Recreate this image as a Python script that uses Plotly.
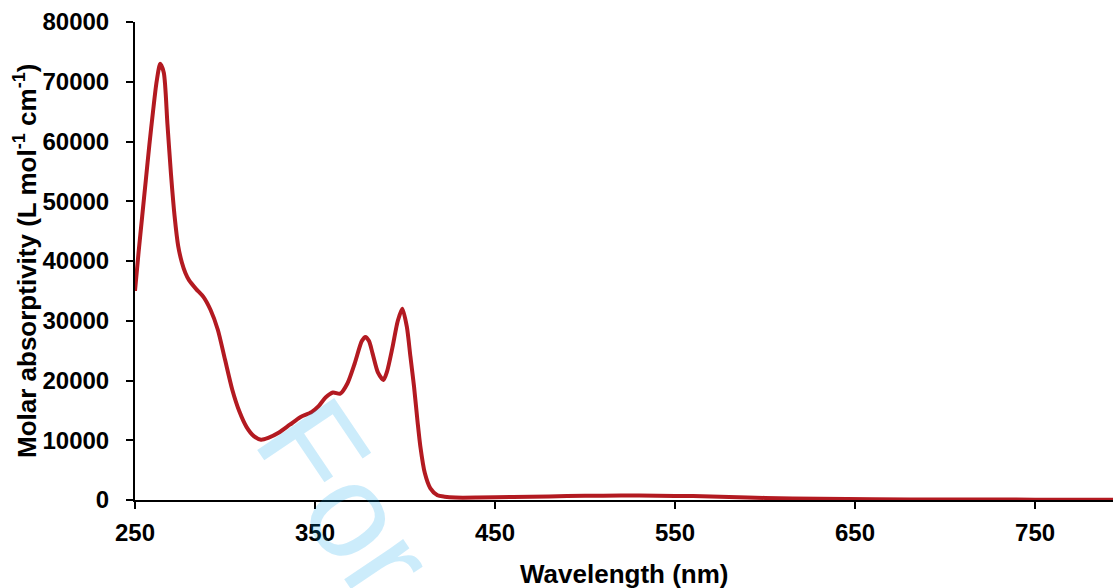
import plotly.graph_objects as go

wavelength = [250, 252, 254, 256, 258, 260, 262, 264, 266, 268, 270, 272, 274, 276, 278, 280,
              284, 288, 292, 296, 300, 304, 308, 312, 316, 320, 324, 330, 336, 342, 348, 352,
              356, 360, 364, 368, 372, 376, 378, 380, 382, 385, 388, 390, 393, 396, 398.5, 401,
              403, 405, 407, 408.5, 411, 414, 418, 422, 428, 440, 460, 480, 500, 520, 540, 560,
              580, 600, 630, 660, 700, 750, 800]
absorptivity = [35000, 41500, 47500, 53500, 59500, 65000, 70000, 73000, 71500, 63000, 54500,
                47500, 42500, 39800, 38000, 36800, 35300, 34000, 31800, 28500, 23500, 18500,
                14800, 12200, 10700, 10100, 10400, 11300, 12600, 13900, 14700, 15700, 17200,
                18000, 17800, 19500, 22800, 26600, 27300, 26600, 24500, 21300, 20100, 21500,
                25500, 30000, 32000, 29000, 24000, 19000, 13000, 9000, 4500, 2000, 800, 550,
                400, 400, 500, 600, 700, 750, 720, 650, 500, 350, 200, 120, 80, 60, 50]

x_ticks = [250, 350, 450, 550, 650, 750]
y_ticks = [0, 10000, 20000, 30000, 40000, 50000, 60000, 70000, 80000]

FONT = "Liberation Sans, Arial, sans-serif"

fig = go.Figure()
fig.add_trace(go.Scatter(
    x=wavelength, y=absorptivity, mode="lines",
    line=dict(color="#b31a21", width=4, shape="spline", smoothing=0.7),
    cliponaxis=False, hoverinfo="skip", showlegend=False,
))

fig.update_layout(
    width=1113, height=588,
    margin=dict(l=135, r=0, t=22, b=88),
    paper_bgcolor="white", plot_bgcolor="white",
    font=dict(family=FONT, color="black"),
    xaxis=dict(
        range=[250, 793.3], tickvals=x_ticks, ticktext=[str(v) for v in x_ticks],
        showgrid=False, zeroline=False, showline=True, linecolor="black", linewidth=2,
        ticks="outside", ticklen=7, tickwidth=2, tickcolor="black",
        tickfont=dict(family=FONT, size=24, color="black", weight="bold"),
        layer="below traces", ticklabelstandoff=3,
    ),
    yaxis=dict(
        range=[0, 80000], tickvals=y_ticks, ticktext=[str(v) for v in y_ticks],
        showgrid=False, zeroline=False, showline=True, linecolor="black", linewidth=2,
        ticks="outside", ticklen=7, tickwidth=2, tickcolor="black",
        tickfont=dict(family=FONT, size=24, color="black", weight="bold"),
        layer="below traces", ticklabelstandoff=12,
    ),
    annotations=[
        dict(text="Wavelength (nm)", xref="paper", yref="paper", x=0.5, y=0,
             yshift=-74, showarrow=False, xanchor="center", yanchor="middle",
             font=dict(family=FONT, size=26, color="black", weight="bold")),
        dict(text="Molar absorptivity (L mol<sup>-1</sup> cm<sup>-1</sup>)",
             xref="paper", yref="paper", x=0, y=0.5, xshift=-110, yshift=0,
             showarrow=False, textangle=-90, xanchor="center", yanchor="middle",
             font=dict(family=FONT, size=26, color="black", weight="bold")),
        dict(text="For", xref="paper", yref="paper", x=(346 - 135) / 978,
             y=(499.5 - 498) / 478, showarrow=False, textangle=56,
             xanchor="center", yanchor="middle",
             font=dict(family=FONT, size=135, color="rgba(0,160,235,0.2)")),
    ],
)

fig.write_html("out.html")
